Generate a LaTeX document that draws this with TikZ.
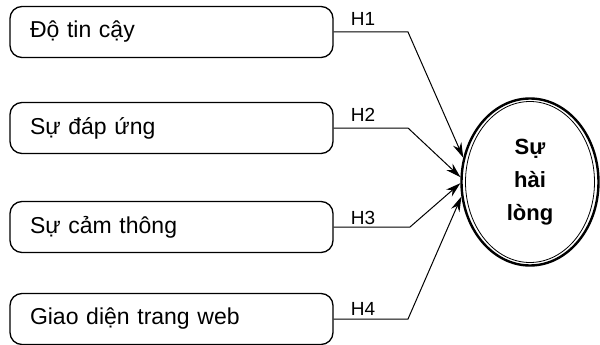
\documentclass[tikz,border=0pt]{standalone}
\usepackage{fontspec}
\setmainfont{Liberation Sans}
\usetikzlibrary{arrows.meta,shapes.geometric}
\begin{document}
\begin{tikzpicture}[x=1pt,y=-1pt,
  factor/.style={draw, line width=1.3pt, rounded corners=12pt, minimum width=323pt, minimum height=51pt,
    text width=283pt, align=left, inner xsep=20pt, font=\fontsize{23}{26}\selectfont},
  hlabel/.style={font=\fontsize{19}{22}\selectfont},
  conn/.style={line width=1pt, -{Stealth[length=15pt,width=9pt]}},
  target/.style={ellipse, draw, line width=2.4pt, minimum width=137pt, minimum height=167pt,
    align=center, font=\bfseries\fontsize{22}{33}\selectfont}]
\useasboundingbox (0,0) rectangle (600,345);
\node[factor] (b1) at (171.5,32) {Độ tin cậy};
\node[factor] (b2) at (171.5,128) {Sự đáp ứng};
\node[factor] (b3) at (171.5,227) {Sự cảm thông};
\node[factor] (b4) at (171.5,319) {Giao diện trang web};
\node[target] (s) at (530,182) {Sự\\hài\\lòng};
\draw[line width=0.8pt] (s.center) ellipse (64.5pt and 80.5pt);
\coordinate (k1) at (408,32);
\coordinate (k2) at (408,128);
\coordinate (k3) at (410,227);
\coordinate (k4) at (408,319);
\draw[conn] (b1.east) -- (k1) -- (s.160.6);
\draw[conn] (b2.east) -- (k2) -- (s.176);
\draw[conn] (b3.east) -- (k3) -- (s.181);
\draw[conn] (b4.east) -- (k4) -- (s.192);
\node[hlabel] (h1) at (363,19) {H1};
\node[hlabel] (h2) at (363,115) {H2};
\node[hlabel] (h3) at (363,218) {H3};
\node[hlabel] (h4) at (363,309) {H4};
\end{tikzpicture}
\end{document}
